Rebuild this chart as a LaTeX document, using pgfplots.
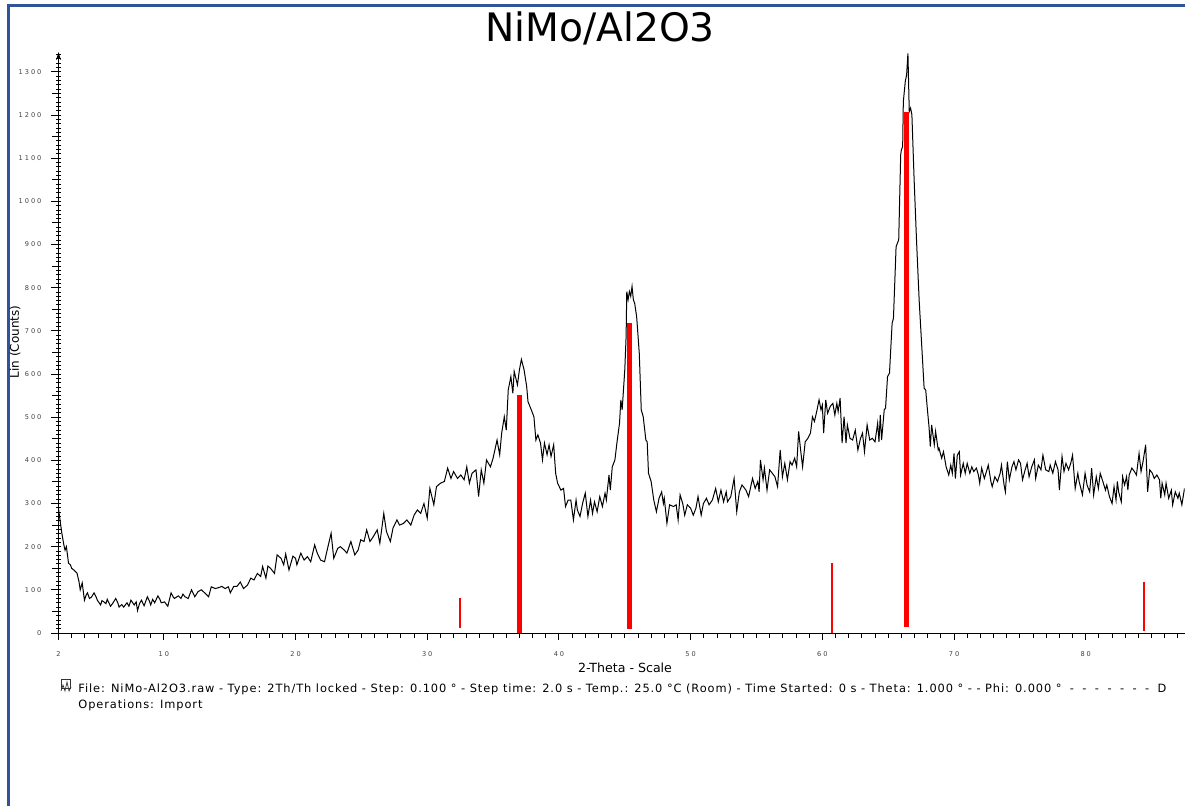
\documentclass[border=0pt]{standalone}
\usepackage{fontspec}
\setmainfont{DejaVu Sans}
\newfontfamily\tickfont[LetterSpace=30]{DejaVu Sans}
\newfontfamily\footfont[LetterSpace=8]{DejaVu Sans}
\usepackage{pgfplots}
\pgfplotsset{compat=1.18}
\usetikzlibrary{arrows.meta}
\definecolor{framebl}{HTML}{2F5597}
\newcommand{\dd}{\hspace{4.2pt}-}

\begin{document}
\begin{tikzpicture}
\path[use as bounding box] (0,0) rectangle (592.5pt,402.5pt);
\clip (0,0) rectangle (592.5pt,402.5pt);
\draw[framebl, line width=1.6pt] (4.25pt,-2pt) -- (4.25pt,399.75pt) -- (600pt,399.75pt);
\node[font=\fontsize{19.6pt}{21pt}\selectfont, anchor=base] at (300pt,381.5pt) {NiMo/Al2O3};

\begin{axis}[
  at={(29.25pt,86pt)}, anchor=south west,
  scale only axis, width=563pt, height=290.5pt,
  xmin=2, xmax=87.5, ymin=0, ymax=1346,
  axis lines=left,
  x axis line style={-, line width=0.5pt},
  y axis line style={-{Stealth[length=4pt,width=2.4pt]}, line width=0.5pt},
  xtick={2,10,20,30,40,50,60,70,80},
  minor xtick={3,...,87},
  ytick={0,100,...,1300},
  minor ytick={10,20,...,1340},
  extra x ticks={5,15,25,35,45,55,65,75,85}, extra x tick labels={},
  extra y ticks={50,150,...,1250}, extra y tick labels={},
  extra x tick style={major tick length=2.5pt},
  extra y tick style={major tick length=3pt},
  xtick align=outside, ytick align=outside,
  major tick length=3.5pt, minor tick length=2.4pt,
  minor y tick style={xshift=1.2pt},
  tick style={black, line width=0.45pt},
  /pgf/number format/assume math mode=true,
  /pgf/number format/1000 sep={},
  ticklabel style={font=\tickfont\fontsize{3.3pt}{4pt}\selectfont, text=black!75},
  yticklabel style={xshift=-1.5pt},
  xticklabel style={yshift=-2.5pt},
]
\addplot[black, line width=0.5pt, no marks] coordinates {
(2.0,289)(2.1,265)(2.25,232)(2.4,205)(2.5,192)(2.6,200)(2.76,162)(2.9,158)(3.0,150)(3.2,145)(3.4,139)(3.55,120)(3.65,100)(3.8,116)(3.97,76)(4.1,88)(4.2,93)(4.35,80)(4.5,83)(4.7,93)(4.85,84)(4.95,76)(5.2,65)(5.3,75)(5.45,72)(5.6,68)(5.7,78)(5.95,62)(6.1,68)(6.35,80)(6.5,70)(6.6,60)(6.8,66)(6.95,60)(7.2,70)(7.35,62)(7.5,76)(7.75,65)(7.9,72)(8.0,52)(8.15,68)(8.3,76)(8.5,63)(8.75,84)(8.9,74)(9.0,65)(9.15,78)(9.3,70)(9.55,86)(9.7,78)(9.8,70)(10.05,72)(10.3,62)(10.55,93)(10.7,84)(10.8,80)(11.1,86)(11.3,80)(11.45,90)(11.6,84)(11.85,80)(12.1,100)(12.35,84)(12.6,96)(12.85,100)(13.1,93)(13.4,84)(13.6,107)(13.9,103)(14.15,105)(14.4,108)(14.65,103)(14.9,107)(15.05,93)(15.3,108)(15.55,108)(15.8,118)(16.05,103)
(16.35,111)(16.6,127)(16.85,123)(17.1,138)(17.35,131)(17.5,154)(17.75,127)(17.9,155)(18.1,150)(18.4,138)(18.6,181)(18.9,173)(19.1,158)(19.25,183)(19.5,146)(19.8,178)(20.0,173)(20.1,158)(20.4,185)(20.65,169)(20.9,177)(21.15,165)(21.45,204)(21.65,185)(21.9,169)(22.2,165)(22.4,192)(22.7,231)(22.9,173)(23.2,196)(23.4,200)(23.7,192)(23.9,185)(24.2,212)(24.5,181)(24.75,192)(24.95,216)(25.2,212)(25.4,239)(25.65,212)(25.9,223)(26.2,239)(26.4,208)(26.7,277)(26.9,235)(27.2,212)(27.4,243)(27.7,262)(27.9,250)(28.2,254)(28.45,262)(28.75,250)(29.0,273)(29.25,285)(29.5,277)(29.75,300)(30.0,266)(30.2,335)(30.5,297)(30.7,339)(31.0,347)
(31.3,351)(31.55,382)(31.8,358)(32.0,374)(32.3,358)(32.55,366)(32.8,355)(33.0,385)(33.2,347)(33.4,370)(33.7,378)(33.9,316)(34.1,378)(34.3,347)(34.5,401)(34.8,385)(35.0,405)(35.3,447)(35.5,413)(35.65,463)(35.85,501)(36.0,470)(36.15,563)(36.35,594)(36.5,555)(36.6,606)(36.85,575)(37.0,610)(37.15,634)(37.35,610)(37.55,571)(37.65,536)(37.9,517)(38.1,501)(38.25,447)(38.4,459)(38.6,440)(38.75,401)(38.9,440)(39.1,413)(39.25,436)(39.4,409)(39.6,436)(39.75,370)(39.9,347)(40.15,331)(40.35,335)(40.5,293)(40.7,308)(40.9,308)(41.1,262)(41.3,308)(41.4,285)(41.6,270)(41.8,301)(42.0,324)(42.2,270)(42.4,308)(42.55,277)(42.7,304)(42.9,281)(43.1,316)(43.3,293)(43.5,324)(43.6,308)(43.8,366)(43.9,331)(44.05,385)(44.25,401)(44.4,440)(44.6,486)(44.7,540)(44.8,517)(45.0,610)(45.1,687)(45.15,791)(45.25,772)(45.35,791)(45.45,780)(45.55,803)(45.65,772)(45.75,764)(45.9,733)(46.1,648)(46.25,517)(46.4,501)(46.6,447)(46.7,443)(46.8,370)(47.0,351)
(47.2,308)(47.4,281)(47.6,312)(47.8,327)(47.93,300)(48.0,312)(48.2,254)(48.4,297)(48.7,293)(48.9,297)(49.05,262)(49.2,320)(49.4,300)(49.55,273)(49.75,297)(50.0,289)(50.2,273)(50.4,289)(50.56,316)(50.8,273)(50.97,300)(51.2,312)(51.4,297)(51.65,308)(51.9,335)(52.1,304)(52.3,331)(52.5,304)(52.7,327)(52.8,304)(53.05,316)(53.3,358)(53.5,281)(53.7,327)(53.9,343)(54.2,331)(54.4,316)(54.7,358)(54.9,335)(55.1,351)(55.2,327)(55.3,401)(55.5,355)(55.6,382)(55.8,331)(56.0,378)(56.2,370)(56.4,362)(56.6,339)(56.8,424)(56.97,362)(57.15,393)(57.35,355)(57.55,397)(57.7,389)(57.9,405)(58.05,385)(58.2,467)(58.35,424)(58.5,385)(58.7,443)(58.9,451)(59.1,463)(59.25,501)(59.4,490)(59.6,517)(59.75,540)(59.9,517)(60.0,528)(60.1,463)(60.26,540)(60.4,509)(60.6,525)(60.8,532)(60.95,505)(61.1,532)(61.2,513)(61.35,544)(61.5,440)(61.65,501)(61.8,440)(61.9,482)(62.1,451)(62.3,447)(62.5,470)(62.7,424)(62.9,451)(63.05,463)(63.2,420)(63.4,482)(63.6,447)(63.8,451)(64.0,443)(64.2,486)(64.3,443)
(64.4,505)(64.5,447)(64.7,517)(64.8,521)(64.95,594)(65.1,602)(65.3,718)(65.4,729)(65.6,895)(65.8,911)(65.95,1108)(66.0,1119)(66.1,1127)(66.15,1231)(66.3,1278)(66.4,1293)(66.5,1343)(66.6,1208)(66.7,1216)(66.8,1201)(66.97,1050)(67.15,911)(67.35,772)(67.55,664)(67.73,567)(67.85,563)(67.98,517)(68.1,478)(68.2,432)(68.3,482)(68.5,436)(68.6,467)(68.8,424)
(68.86,428)(69.06,405)(69.2,420)(69.4,385)(69.6,366)(69.75,389)(69.87,370)(70.0,416)(70.1,358)(70.25,412)(70.4,420)(70.5,366)(70.7,393)(70.85,370)(71.0,393)(71.2,370)(71.35,385)(71.5,374)(71.7,382)(71.85,366)(71.95,347)(72.1,382)(72.3,358)(72.5,378)(72.6,389)(72.8,351)(72.9,339)(73.1,362)(73.3,351)(73.5,370)(73.6,389)(73.8,343)(73.9,327)(74.05,397)(74.2,355)(74.4,385)(74.55,397)(74.7,378)(74.9,401)(75.05,393)(75.2,355)(75.4,378)(75.55,393)(75.7,362)(75.9,385)(76.1,401)(76.2,358)(76.4,389)(76.6,378)(76.75,412)(76.96,378)(77.2,374)(77.3,389)(77.5,370)(77.7,397)(77.9,378)(78.0,331)(78.2,409)(78.35,374)(78.5,393)(78.7,378)(78.86,393)(79.0,412)(79.2,335)(79.4,370)(79.5,351)(79.75,320)(79.95,370)(80.1,343)(80.3,327)(80.45,382)(80.6,320)(80.8,362)(80.96,335)(81.1,370)(81.3,351)(81.5,331)(81.6,343)(81.8,316)(82.0,300)(82.15,339)(82.3,308)(82.4,351)(82.5,327)(82.7,304)(82.8,362)(82.95,343)(83.1,362)(83.2,331)(83.3,366)(83.5,382)(83.7,374)(83.85,366)(84.05,416)(84.2,374)(84.35,397)(84.55,436)(84.7,327)(84.86,378)(85.06,370)(85.2,358)(85.4,366)(85.6,355)(85.7,312)(85.8,347)(86.0,320)(86.1,347)(86.3,312)(86.5,331)(86.6,297)(86.8,327)(87.0,312)(87.1,324)(87.3,297)(87.5,335)
};
% reference pattern sticks
\addplot[red, line width=1pt, no marks] coordinates {(32.47,12)(32.47,80)};
\addplot[red, line width=2.35pt, no marks] coordinates {(37.03,0)(37.03,551)};
\addplot[red, line width=2.35pt, no marks] coordinates {(45.38,9)(45.38,718)};
\addplot[red, line width=1pt, no marks] coordinates {(60.7,0)(60.7,163)};
\addplot[red, line width=2.35pt, no marks] coordinates {(66.38,15)(66.38,1208)};
\addplot[red, line width=1pt, no marks] coordinates {(84.43,5)(84.43,117)};
\end{axis}

\node[rotate=90, font=\fontsize{6pt}{7pt}\selectfont] at (7.5pt,231.5pt) {Lin (Counts)};
\node[font=\fontsize{6.3pt}{7pt}\selectfont] at (312.5pt,68.5pt) {2-Theta - Scale};
% file icon
\draw[black!80, line width=0.35pt] (30.5pt,58.5pt) rectangle (35pt,63pt);
\draw[black!80, line width=0.35pt] (30.5pt,57pt) -- (31.5pt,60pt) -- (32.5pt,57pt) -- (33.5pt,61.5pt) -- (34.5pt,57pt) -- (35.5pt,59pt);
\node[font=\footfont\fontsize{5.7pt}{7pt}\selectfont, anchor=base west, inner sep=0pt] at (39pt,56.5pt)
  {File: NiMo-Al2O3.raw - Type: 2Th/Th locked - Step: 0.100 ° - Step time: 2.0 s - Temp.: 25.0 °C (Room) - Time Started: 0 s - Theta: 1.000 ° - - Phi: 0.000 °\dd\dd\dd\dd\dd\dd\dd\hspace{4.2pt}D};
\node[font=\footfont\fontsize{5.7pt}{7pt}\selectfont, anchor=base west, inner sep=0pt] at (39pt,48.5pt)
  {Operations: Import};
\end{tikzpicture}
\end{document}
